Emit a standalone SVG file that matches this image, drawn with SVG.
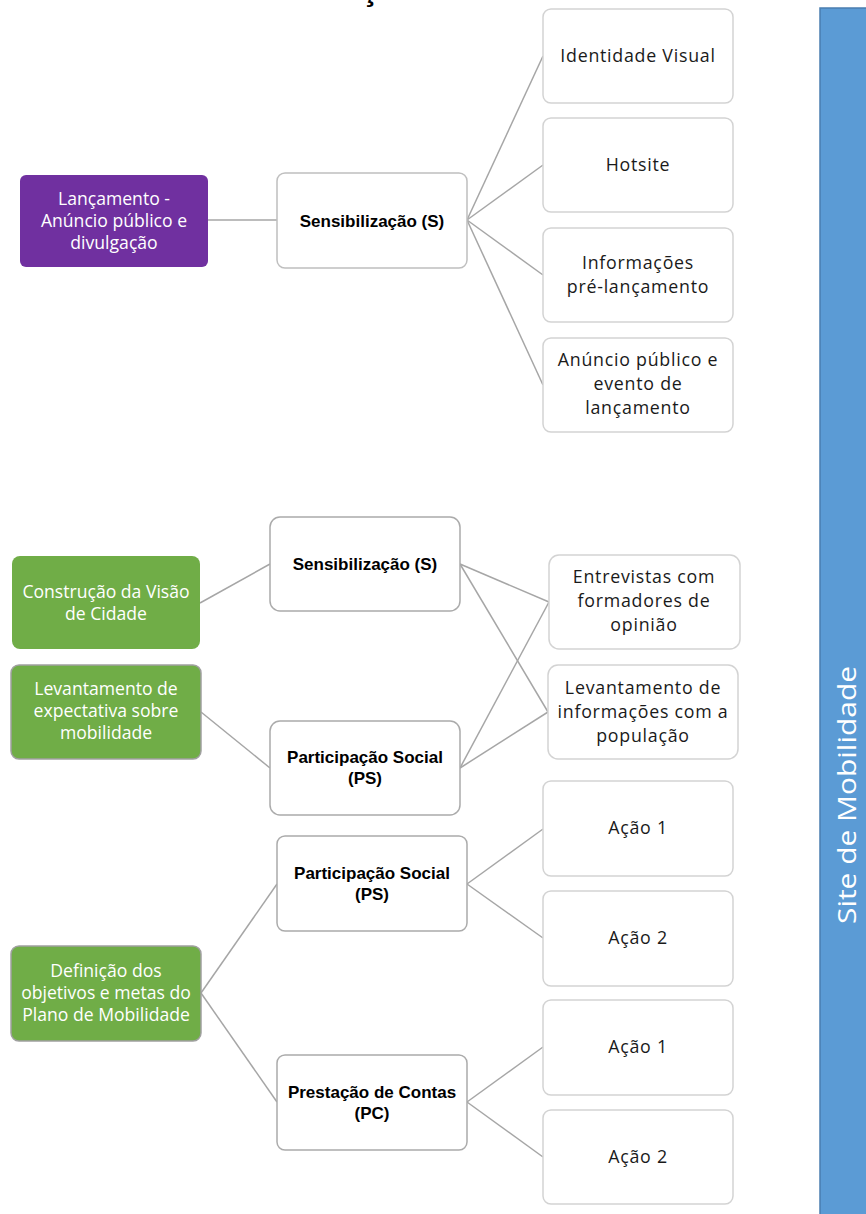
<svg xmlns="http://www.w3.org/2000/svg" width="866" height="1214" viewBox="0 0 866 1214">
<style>
.box{fill:#fff;stroke:#BFBFBF;stroke-width:1.5}
.lt{fill:#fff;stroke:#D3D3D3;stroke-width:1.5}
.mid{fill:#fff;stroke:#ABABAB;stroke-width:1.5}
.purple{fill:#7030A0;stroke:none}
.green{fill:#70AD47;stroke:none}
.greenb{fill:#70AD47;stroke:#A0A0A0;stroke-width:1.5}
.t{font-family:"Open Sans","Liberation Sans",Arial,sans-serif;font-size:17.8px;letter-spacing:0.75px;fill:#1a1a1a;text-anchor:middle}
.w{fill:#fff;font-size:17.6px;letter-spacing:0}
.b{font-family:"Liberation Sans",Arial,sans-serif;font-weight:bold;font-size:17px;letter-spacing:0;fill:#000}
.conn line{stroke:#A6A6A6;stroke-width:1.5}
</style>
<text x="370" y="0" class="t b" style="font-size:32px">ç</text>
<g id="site">
<rect x="820" y="8" width="50" height="1210" fill="#5B9BD5" stroke="#4A7EB0" stroke-width="1.5"/>
<text transform="translate(856,795) rotate(-90)" text-anchor="middle" font-family="Open Sans,Liberation Sans,Arial,sans-serif" font-size="25" fill="#fff" textLength="258" lengthAdjust="spacingAndGlyphs">Site de Mobilidade</text>
</g>
<g class="conn">
<line x1="208" y1="220" x2="277" y2="220"/>
<line x1="467" y1="220" x2="543" y2="56"/>
<line x1="467" y1="220" x2="543" y2="165"/>
<line x1="467" y1="220" x2="543" y2="275"/>
<line x1="467" y1="220" x2="543" y2="385"/>
<line x1="200" y1="603" x2="270" y2="564"/>
<line x1="201" y1="712" x2="270" y2="768"/>
<line x1="460" y1="564" x2="549" y2="602"/>
<line x1="460" y1="564" x2="548" y2="712"/>
<line x1="460" y1="768" x2="549" y2="602"/>
<line x1="460" y1="768" x2="548" y2="712"/>
<line x1="201" y1="993" x2="277" y2="884"/>
<line x1="201" y1="993" x2="277" y2="1102"/>
<line x1="467" y1="884" x2="543" y2="829"/>
<line x1="467" y1="884" x2="543" y2="938"/>
<line x1="467" y1="1102" x2="543" y2="1047"/>
<line x1="467" y1="1102" x2="543" y2="1157"/>
</g>
<g id="lancamento">
<rect x="20" y="175" width="188" height="92" rx="6" class="purple"/>
<text class="t w" x="114" y="205">Lançamento -</text>
<text class="t w" x="114" y="227">Anúncio público e</text>
<text class="t w" x="114" y="249">divulgação</text>
</g>
<g id="sens1">
<rect x="277" y="173" width="190" height="95" rx="8" class="box"/>
<text class="t b" x="372" y="227">Sensibilização (S)</text>
</g>
<g id="identidade">
<rect x="543" y="9" width="190" height="94" rx="8" class="lt"/>
<text class="t" x="638" y="62">Identidade Visual</text>
</g>
<g id="hotsite">
<rect x="543" y="118" width="190" height="94" rx="8" class="lt"/>
<text class="t" x="638" y="171">Hotsite</text>
</g>
<g id="informacoes">
<rect x="543" y="228" width="190" height="94" rx="8" class="lt"/>
<text class="t" x="638" y="269">Informações</text>
<text class="t" x="638" y="293">pré-lançamento</text>
</g>
<g id="anuncio">
<rect x="543" y="338" width="190" height="94" rx="8" class="lt"/>
<text class="t" x="638" y="366">Anúncio público e</text>
<text class="t" x="638" y="390">evento de</text>
<text class="t" x="638" y="414">lançamento</text>
</g>
<g id="visao">
<rect x="12" y="556" width="188" height="93" rx="8" class="green"/>
<text class="t w" x="106" y="598">Construção da Visão</text>
<text class="t w" x="106" y="620">de Cidade</text>
</g>
<g id="expectativa">
<rect x="11" y="665" width="190" height="94" rx="8" class="greenb"/>
<text class="t w" x="106" y="695">Levantamento de</text>
<text class="t w" x="106" y="717">expectativa sobre</text>
<text class="t w" x="106" y="739">mobilidade</text>
</g>
<g id="sens2">
<rect x="270" y="517" width="190" height="94" rx="10" class="mid"/>
<text class="t b" x="365" y="570">Sensibilização (S)</text>
</g>
<g id="ps1">
<rect x="270" y="721" width="190" height="94" rx="10" class="mid"/>
<text class="t b" x="365" y="763">Participação Social</text>
<text class="t b" x="365" y="784">(PS)</text>
</g>
<g id="entrevistas">
<rect x="549" y="555" width="191" height="94" rx="10" class="lt"/>
<text class="t" x="644" y="583">Entrevistas com</text>
<text class="t" x="644" y="607">formadores de</text>
<text class="t" x="644" y="631">opinião</text>
</g>
<g id="populacao">
<rect x="548" y="665" width="190" height="94" rx="10" class="lt"/>
<text class="t" x="643" y="694">Levantamento de</text>
<text class="t" x="643" y="718">informações com a</text>
<text class="t" x="643" y="742">população</text>
</g>
<g id="definicao">
<rect x="11" y="946" width="190" height="95" rx="8" class="greenb"/>
<text class="t w" x="106" y="977">Definição dos</text>
<text class="t w" x="106" y="999">objetivos e metas do</text>
<text class="t w" x="106" y="1021">Plano de Mobilidade</text>
</g>
<g id="ps2">
<rect x="277" y="836" width="190" height="95" rx="8" class="mid"/>
<text class="t b" x="372" y="879">Participação Social</text>
<text class="t b" x="372" y="900">(PS)</text>
</g>
<g id="pc">
<rect x="277" y="1055" width="190" height="95" rx="8" class="mid"/>
<text class="t b" x="372" y="1098">Prestação de Contas</text>
<text class="t b" x="372" y="1119">(PC)</text>
</g>
<g id="acao1a">
<rect x="543" y="781" width="190" height="95" rx="8" class="lt"/>
<text class="t" x="638" y="834">Ação 1</text>
</g>
<g id="acao2a">
<rect x="543" y="891" width="190" height="95" rx="8" class="lt"/>
<text class="t" x="638" y="944">Ação 2</text>
</g>
<g id="acao1b">
<rect x="543" y="1000" width="190" height="95" rx="8" class="lt"/>
<text class="t" x="638" y="1053">Ação 1</text>
</g>
<g id="acao2b">
<rect x="543" y="1110" width="190" height="94" rx="8" class="lt"/>
<text class="t" x="638" y="1163">Ação 2</text>
</g>
</svg>
